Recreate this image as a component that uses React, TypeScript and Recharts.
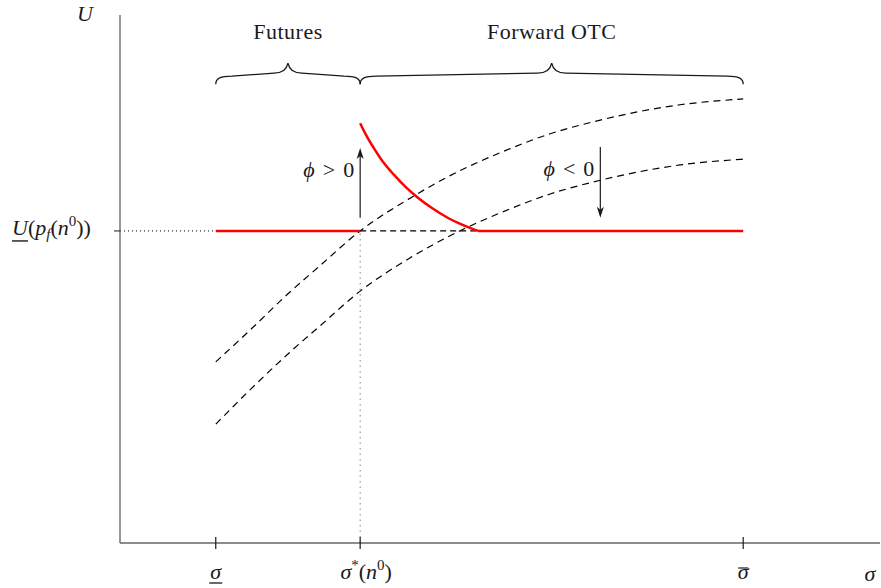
import React from 'react'
import { ComposedChart, Line, XAxis, YAxis, ReferenceLine } from 'recharts'

const W = 881
const H = 588

const X_MAX = 10
const Y_MAX = 10

// positions on the sigma axis
const SIGMA_LOW = 1.26
const SIGMA_STAR = 3.16
const SIGMA_BAR = 8.2
const RED_KINK = 4.71
// utility level U(p_f(n^0))
const U_LEVEL = 5.91

// dashed utility curves
const upperX = [1.26, 1.71, 2.21, 2.63, 3.16, 3.84, 4.47, 5.0, 5.66, 6.32, 7.37, 8.2]
const upperY = [3.43, 4.03, 4.72, 5.25, 5.91, 6.55, 7.05, 7.39, 7.75, 8.01, 8.3, 8.41]
const lowerX = [1.26, 1.71, 2.21, 2.63, 3.16, 3.84, 4.47, 5.0, 5.66, 6.32, 7.37, 8.2]
const lowerY = [2.25, 2.9, 3.58, 4.11, 4.77, 5.42, 5.91, 6.25, 6.61, 6.87, 7.16, 7.27]

// red envelope, falling part
const redCurveX = [3.16, 3.24, 3.34, 3.46, 3.6, 3.76, 3.92, 4.1, 4.3, 4.5, 4.71]
const redCurveY = [7.95, 7.72, 7.48, 7.22, 6.98, 6.74, 6.54, 6.35, 6.17, 6.03, 5.91]

// arrows (x, from, to)
const upArrow = [3.16, 6.16, 7.48]
const downArrow = [6.32, 7.5, 6.16]

const BRACE_Y = 8.69

const pts = (xs: number[], ys: number[]) => xs.map((x, i) => ({ x, y: ys[i] }))

const upperData = pts(upperX, upperY)
const lowerData = pts(lowerX, lowerY)
const redLeft = pts([SIGMA_LOW, SIGMA_STAR], [U_LEVEL, U_LEVEL])
const redCurve = pts(redCurveX, redCurveY)
const redRight = pts([RED_KINK, SIGMA_BAR], [U_LEVEL, U_LEVEL])
const blackFlat = pts([SIGMA_STAR, RED_KINK], [U_LEVEL, U_LEVEL])

const SERIF = '"Liberation Serif", "Times New Roman", serif'
const INK = '#1a1a1a'
const FS = 22

function Brace(p: any) {
  const { x1, x2, y1, text } = p
  const m = (x1 + x2) / 2
  const fe = y1 - 8
  const fm = y1 - 11
  const tip = y1 - 21
  const d =
    `M${x1},${y1} C${x1},${fe + 2} ${x1 + 5},${fe} ${x1 + 16},${fe} ` +
    `L${m - 14},${fm} C${m - 5},${fm} ${m - 1},${tip + 5} ${m},${tip} ` +
    `C${m + 1},${tip + 5} ${m + 5},${fm} ${m + 14},${fm} ` +
    `L${x2 - 16},${fe} C${x2 - 5},${fe} ${x2},${fe + 2} ${x2},${y1}`
  return (
    <g>
      <path d={d} fill="none" stroke={INK} strokeWidth={1.3} />
      <text x={m} y={tip - 24} textAnchor="middle" fontFamily={SERIF} fontSize={FS} letterSpacing={0.5} fill={INK}>
        {text}
      </text>
    </g>
  )
}

function Arrow(p: any) {
  const { x1, y1, y2, sign } = p
  const dir = y2 < y1 ? -1 : 1
  const head = `M${x1},${y2} L${x1 - 3.5},${y2 - dir * 11} L${x1},${y2 - dir * 8} L${x1 + 3.5},${y2 - dir * 11} Z`
  const mid = (y1 + y2) / 2
  return (
    <g>
      <line x1={x1} y1={y1} x2={x1} y2={y2 - dir * 8} stroke={INK} strokeWidth={1.2} />
      <path d={head} fill={INK} />
      <text x={x1 - 6} y={mid - 6} textAnchor="end" fontFamily={SERIF} fontSize={FS} fill={INK}>
        <tspan fontStyle="italic">ϕ</tspan>
        <tspan dx={8}>{sign}</tspan>
        <tspan dx={8}>0</tspan>
      </text>
    </g>
  )
}

function XTick(p: any) {
  const { x, y, payload } = p
  const y0 = y - 8
  const base = y0 + 36
  const v = payload.value
  let label: React.ReactNode = null
  if (v === SIGMA_LOW) {
    label = (
      <g>
        <text x={x} y={base} textAnchor="middle" fontFamily={SERIF} fontStyle="italic" fontSize={FS} fill={INK}>σ</text>
        <line x1={x - 6.5} x2={x + 6.5} y1={base + 4} y2={base + 4} stroke={INK} strokeWidth={1.3} />
      </g>
    )
  } else if (v === SIGMA_STAR) {
    label = (
      <text x={x + 6} y={base} textAnchor="middle" fontFamily={SERIF} fontSize={FS} fill={INK}>
        <tspan fontStyle="italic">σ</tspan>
        <tspan dy={-9} fontSize={15}>*</tspan>
        <tspan dy={9}>(</tspan>
        <tspan fontStyle="italic">n</tspan>
        <tspan dy={-9} fontSize={15}>0</tspan>
        <tspan dy={9}>)</tspan>
      </text>
    )
  } else {
    label = (
      <g>
        <text x={x} y={base} textAnchor="middle" fontFamily={SERIF} fontStyle="italic" fontSize={FS} fill={INK}>σ</text>
        <line x1={x - 5} x2={x + 5} y1={base - 11} y2={base - 11} stroke={INK} strokeWidth={1.2} />
      </g>
    )
  }
  return (
    <g>
      <line x1={x} x2={x} y1={y0 - 6} y2={y0 + 6} stroke={INK} strokeWidth={1.2} />
      {label}
    </g>
  )
}

function YTick(p: any) {
  const { x, y } = p
  const left = x - 100
  return (
    <g>
      <text x={left} y={y + 4} fontFamily={SERIF} fontSize={FS} fill={INK}>
        <tspan fontStyle="italic">U</tspan>
        <tspan>(</tspan>
        <tspan fontStyle="italic">p</tspan>
        <tspan dy={4} fontSize={15} fontStyle="italic">f</tspan>
        <tspan dy={-4}>(</tspan>
        <tspan fontStyle="italic">n</tspan>
        <tspan dy={-9} fontSize={15}>0</tspan>
        <tspan dy={9}>))</tspan>
      </text>
      <line x1={left} x2={left + 16} y1={y + 10} y2={y + 10} stroke={INK} strokeWidth={1.4} />
    </g>
  )
}

export default function App() {
  return (
    <div style={{ position: 'absolute', left: 0, top: 0, width: W, height: H, background: '#fff' }}>
      <ComposedChart width={W} height={H} margin={{ top: 15, right: 1, bottom: 0, left: 0 }}>
        <XAxis
          type="number"
          dataKey="x"
          domain={[0, X_MAX]}
          ticks={[SIGMA_LOW, SIGMA_STAR, SIGMA_BAR]}
          interval={0}
          height={45}
          tickLine={false}
          tickSize={6}
          tickMargin={2}
          axisLine={{ stroke: INK, strokeWidth: 1.2 }}
          tick={(p: any) => <XTick {...p} />}
        />
        <YAxis
          type="number"
          dataKey="y"
          domain={[0, Y_MAX]}
          ticks={[U_LEVEL]}
          width={120}
          tickSize={6}
          tickMargin={2}
          tickLine={{ stroke: INK }}
          axisLine={{ stroke: '#555', strokeWidth: 1.2 }}
          tick={(p: any) => <YTick {...p} />}
        />

        <ReferenceLine
          segment={[{ x: 0, y: U_LEVEL }, { x: SIGMA_LOW, y: U_LEVEL }]}
          stroke="#000"
          strokeWidth={1}
          strokeDasharray="1 3"
        />
        <ReferenceLine
          segment={[{ x: SIGMA_STAR, y: 0 }, { x: SIGMA_STAR, y: U_LEVEL }]}
          stroke="#888"
          strokeWidth={1}
          strokeDasharray="1.5 4"
        />

        <Line data={upperData} dataKey="y" type="monotone" stroke="#000" strokeWidth={1.2} strokeDasharray="7 5" dot={false} activeDot={false} isAnimationActive={false} />
        <Line data={lowerData} dataKey="y" type="monotone" stroke="#000" strokeWidth={1.2} strokeDasharray="7 5" dot={false} activeDot={false} isAnimationActive={false} />
        <Line data={blackFlat} dataKey="y" type="linear" stroke="#000" strokeWidth={1.2} strokeDasharray="6 4" dot={false} activeDot={false} isAnimationActive={false} />
        <Line data={redLeft} dataKey="y" type="linear" stroke="#ff0000" strokeWidth={2.5} dot={false} activeDot={false} isAnimationActive={false} />
        <Line data={redCurve} dataKey="y" type="monotone" stroke="#ff0000" strokeWidth={2.5} dot={false} activeDot={false} isAnimationActive={false} />
        <Line data={redRight} dataKey="y" type="linear" stroke="#ff0000" strokeWidth={2.5} dot={false} activeDot={false} isAnimationActive={false} />

        <ReferenceLine
          segment={[{ x: upArrow[0], y: upArrow[1] }, { x: upArrow[0], y: upArrow[2] }]}
          shape={(p: any) => <Arrow {...p} sign=">" />}
        />
        <ReferenceLine
          segment={[{ x: downArrow[0], y: downArrow[1] }, { x: downArrow[0], y: downArrow[2] }]}
          shape={(p: any) => <Arrow {...p} sign="<" />}
        />
        <ReferenceLine
          segment={[{ x: SIGMA_LOW, y: BRACE_Y }, { x: SIGMA_STAR, y: BRACE_Y }]}
          shape={(p: any) => <Brace {...p} text="Futures" />}
        />
        <ReferenceLine
          segment={[{ x: SIGMA_STAR, y: BRACE_Y }, { x: SIGMA_BAR, y: BRACE_Y }]}
          shape={(p: any) => <Brace {...p} text="Forward OTC" />}
        />
      </ComposedChart>
      <svg width={W} height={H} style={{ position: 'absolute', left: 0, top: 0, pointerEvents: 'none' }}>
        <text x={85} y={21} textAnchor="middle" fontFamily={SERIF} fontStyle="italic" fontSize={FS} fill={INK}>U</text>
        <text x={870} y={581} textAnchor="middle" fontFamily={SERIF} fontStyle="italic" fontSize={FS} fill={INK}>σ</text>
      </svg>
    </div>
  )
}
